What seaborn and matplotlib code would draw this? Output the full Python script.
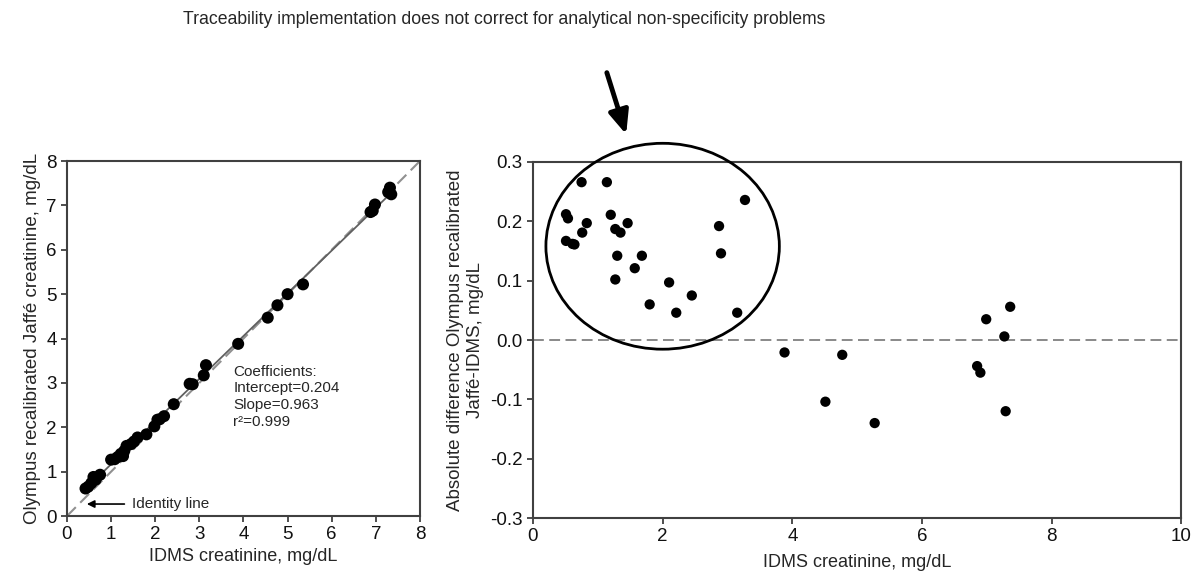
import matplotlib
matplotlib.use("Agg")
import matplotlib.pyplot as plt
from matplotlib.patches import Ellipse
import seaborn as sns
import pandas as pd

# left panel: IDMS vs recalibrated Jaffe (mg/dL)
left_x = [0.42, 0.48, 0.55, 0.60, 0.65, 0.75, 1.00, 1.08, 1.15, 1.22, 1.27, 1.30, 1.35,
          1.45, 1.52, 1.60, 1.80, 1.98, 2.05, 2.10, 2.20, 2.42, 2.78, 2.85, 3.10, 3.15,
          3.88, 4.55, 4.77, 5.00, 5.35, 6.88, 6.93, 6.98, 7.28, 7.32, 7.35]
left_y = [0.62, 0.66, 0.74, 0.88, 0.82, 0.93, 1.27, 1.28, 1.33, 1.40, 1.35, 1.47, 1.58,
          1.62, 1.68, 1.77, 1.84, 2.02, 2.17, 2.18, 2.25, 2.52, 2.98, 2.97, 3.17, 3.40,
          3.88, 4.47, 4.75, 5.00, 5.22, 6.85, 6.88, 7.02, 7.30, 7.40, 7.25]
intercept = 0.204
slope = 0.963

# right panel: absolute difference (mg/dL)
diff_x = [0.51, 0.54, 0.51, 0.64, 0.61, 0.75, 0.76, 0.83, 1.14, 1.20, 1.27, 1.35, 1.30,
          1.27, 1.46, 1.57, 1.68, 1.80, 2.10, 2.21, 2.45, 2.87, 2.90, 3.15, 3.27, 3.88,
          4.51, 4.77, 5.27, 6.85, 6.90, 6.99, 7.27, 7.36, 7.29]
diff_y = [0.212, 0.205, 0.167, 0.161, 0.162, 0.266, 0.181, 0.197, 0.266, 0.211, 0.187,
          0.181, 0.142, 0.102, 0.197, 0.121, 0.142, 0.060, 0.097, 0.046, 0.075, 0.192,
          0.146, 0.046, 0.236, -0.021, -0.104, -0.025, -0.140, -0.044, -0.055, 0.035,
          0.006, 0.056, -0.120]

left_df = pd.DataFrame({"idms": left_x, "jaffe": left_y})
diff_df = pd.DataFrame({"idms": diff_x, "diff": diff_y})

sns.set_style("ticks")
plt.rcParams["font.family"] = ["Liberation Sans", "DejaVu Sans"]
plt.rcParams["font.size"] = 13

fig = plt.figure(figsize=(11.92, 5.71), dpi=100)
ax1 = fig.add_axes([0.0562, 0.0963, 0.2961, 0.6217])
ax2 = fig.add_axes([0.4471, 0.0928, 0.5440, 0.6235])

spine_col = "#404040"
for ax in (ax1, ax2):
    for s in ax.spines.values():
        s.set_color(spine_col)
        s.set_linewidth(1.5)
    ax.tick_params(direction="out", length=4.5, width=1.3, color=spine_col, pad=3,
                   labelsize=13.5, labelcolor="#111111", top=False, right=False)

# ---- left
ax1.plot([0, 8], [0, 8], ls=(0, (6, 3)), color="#909090", lw=1.5)
rx = [min(left_x), max(left_x)]
ax1.plot(rx, [intercept + slope * v for v in rx], color="#606060", lw=1.3)
sns.scatterplot(data=left_df, x="idms", y="jaffe", ax=ax1, color="black", s=75,
                edgecolor="none", zorder=3)
ax1.set_xlim(0, 8)
ax1.set_ylim(0, 8)
ax1.set_xticks(range(0, 9))
ax1.set_yticks(range(0, 9))
ax1.set_xlabel("IDMS creatinine, mg/dL", fontsize=13, labelpad=3)
ax1.set_ylabel("Olympus recalibrated Jaffé creatinine, mg/dL", fontsize=13.5, labelpad=4)
ax1.text(3.77, 2.69, "Coefficients:\nIntercept=0.204\nSlope=0.963\nr²=0.999",
         fontsize=11, va="center", ha="left", linespacing=1.25)
ax1.annotate("Identity line", xy=(0.45, 0.27), xytext=(1.47, 0.27), fontsize=11,
             va="center", ha="left",
             arrowprops=dict(arrowstyle="-|>", color="black", lw=1.2,
                             shrinkA=3, shrinkB=0))

# ---- right
ax2.axhline(0, ls=(0, (6, 3)), color="#808080", lw=1.3)
sns.scatterplot(data=diff_df, x="idms", y="diff", ax=ax2, color="black", s=55,
                edgecolor="none", zorder=3)
ax2.set_xlim(0, 10)
ax2.set_ylim(-0.3, 0.3)
ax2.set_xticks([0, 2, 4, 6, 8, 10])
ax2.set_yticks([-0.3, -0.2, -0.1, 0.0, 0.1, 0.2, 0.3])
ax2.set_yticklabels([f"{v:.1f}" for v in [-0.3, -0.2, -0.1, 0.0, 0.1, 0.2, 0.3]])
ax2.set_xlabel("IDMS creatinine, mg/dL", fontsize=13, labelpad=6)
ax2.set_ylabel("Absolute difference Olympus recalibrated\nJaffé-IDMS, mg/dL",
               fontsize=13.5, labelpad=4, linespacing=1.25)
ax2.add_patch(Ellipse((2.0, 0.158), 3.6, 0.347, fill=False, lw=2, color="black",
                      clip_on=False, zorder=4))

# ---- headline and arrow
fig.text(0.423, 1 - 20 / 571, "Traceability implementation does not correct for "
         "analytical non-specificity problems", ha="center", va="center", fontsize=12.7)
fig.patches.append(matplotlib.patches.FancyArrowPatch(
    (606, 571 - 70), (627, 571 - 137), transform=None,
    arrowstyle="-|>,head_length=14,head_width=6", lw=3.5, color="black",
    mutation_scale=1))

fig.savefig("out.png", dpi=100)
